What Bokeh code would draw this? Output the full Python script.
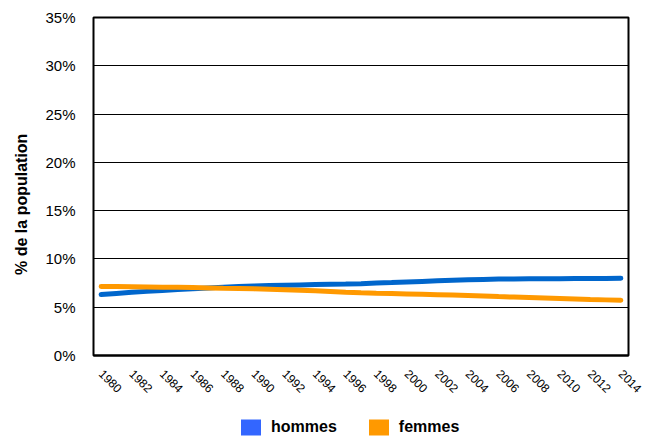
from bokeh.plotting import figure
from bokeh.models import Legend, LegendItem, PrintfTickFormatter, FixedTicker, Range1d
from bokeh.layouts import column
from bokeh.embed import file_html
from bokeh.resources import INLINE
import math

years = list(range(1980, 2015))
hommes = [6.32, 6.43, 6.54, 6.64, 6.74, 6.83, 6.92, 7.00, 7.08, 7.15,
          7.20, 7.24, 7.28, 7.31, 7.34, 7.37, 7.40, 7.44, 7.50, 7.55,
          7.61, 7.67, 7.73, 7.79, 7.84, 7.88, 7.91, 7.93, 7.95, 7.96,
          7.96, 7.97, 7.97, 7.98, 8.00]
femmes = [7.15, 7.14, 7.12, 7.10, 7.08, 7.06, 7.03, 7.00, 6.96, 6.93,
          6.90, 6.85, 6.80, 6.75, 6.70, 6.63, 6.56, 6.50, 6.45, 6.42,
          6.38, 6.34, 6.30, 6.26, 6.22, 6.17, 6.10, 6.05, 6.00, 5.95,
          5.90, 5.85, 5.80, 5.76, 5.72]
x_ticks = list(range(1980, 2015, 2))
y_ticks = [0, 5, 10, 15, 20, 25, 30, 35]
series_names = ["hommes", "femmes"]
y_title = "% de la population"

FONT = "Liberation Sans"
nan = float("nan")

p = figure(frame_width=535, frame_height=338, output_backend="svg", toolbar_location=None,
           x_range=Range1d(1979.5, 2014.5), y_range=Range1d(0, 35),
           min_border_left=93, min_border_right=21, min_border_top=17,
           min_border_bottom=60)
p.background_fill_color = "white"
p.outline_line_color = "black"
p.outline_line_width = 2

p.xgrid.grid_line_color = None
p.ygrid.grid_line_color = "black"
p.ygrid.grid_line_width = 1
p.ygrid.ticker = FixedTicker(ticks=y_ticks)

p.yaxis.ticker = FixedTicker(ticks=y_ticks)
p.yaxis.formatter = PrintfTickFormatter(format="%d%%")
p.yaxis.axis_line_color = None
p.yaxis.major_tick_line_color = None
p.yaxis.minor_tick_line_color = None
p.yaxis.major_label_text_font = FONT
p.yaxis.major_label_text_font_size = "15px"
p.yaxis.major_label_text_color = "black"
p.yaxis.major_label_standoff = 12
# trailing no-break spaces shift the rotated title down, as in the reference
p.yaxis.axis_label = y_title + "\u00a0" * 8
p.yaxis.axis_label_text_font = FONT
p.yaxis.axis_label_text_font_size = "16px"
p.yaxis.axis_label_text_font_style = "bold"
p.yaxis.axis_label_text_color = "black"
p.yaxis.axis_label_standoff = 12

p.xaxis.ticker = FixedTicker(ticks=x_ticks)
p.xaxis.axis_line_color = "black"
p.xaxis.axis_line_width = 2
p.xaxis.major_tick_line_color = None
p.xaxis.minor_tick_line_color = None
p.xaxis.major_label_orientation = -math.pi / 4
p.xaxis.major_label_text_font = FONT
p.xaxis.major_label_text_font_size = "12px"
p.xaxis.major_label_text_color = "black"
p.xaxis.major_label_standoff = 10

p.line(years, hommes, line_color="#0066CC", line_width=5, line_cap="round")
p.line(years, femmes, line_color="#FF9900", line_width=5, line_cap="round")

# legend strip under the chart (its frame is aligned with the chart's frame)
lg = figure(width=641, height=22, output_backend="svg", toolbar_location=None,
            x_axis_location=None, y_axis_location=None,
            min_border_left=0, min_border_right=0, min_border_top=0, min_border_bottom=0)
lg.outline_line_color = None
lg.xgrid.grid_line_color = None
lg.ygrid.grid_line_color = None
sq_h = lg.quad(left=[nan], right=[nan], top=[nan], bottom=[nan], fill_color="#3366FF", line_color=None)
sq_f = lg.quad(left=[nan], right=[nan], top=[nan], bottom=[nan], fill_color="#FF9900", line_color=None)

legend = Legend(items=[LegendItem(label=series_names[0], renderers=[sq_h]),
                       LegendItem(label=series_names[1], renderers=[sq_f])],
                orientation="horizontal", location=(145, 0))
legend.glyph_width = 25
legend.glyph_height = 20
legend.label_text_font = FONT
legend.label_text_font_size = "16px"
legend.label_text_font_style = "bold"
legend.label_text_color = "black"
legend.label_standoff = 8
legend.spacing = 29
legend.border_line_color = None
legend.background_fill_alpha = 0
legend.padding = 0
legend.margin = 0
lg.add_layout(legend, "center")

layout = column(p, lg, spacing=0)
open("out.html", "w").write(file_html(layout, INLINE))
